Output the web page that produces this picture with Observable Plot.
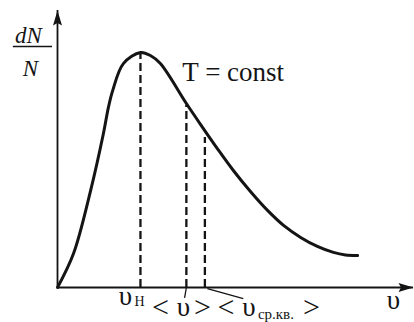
<!DOCTYPE html>
<html>
<head>
<meta charset="utf-8">
<script src="https://cdn.jsdelivr.net/npm/d3@7"></script>
<script src="https://cdn.jsdelivr.net/npm/@observablehq/plot@0.6"></script>
<style>
  html, body { margin: 0; padding: 0; background: #fff; }
</style>
</head>
<body>
<div id="chart"></div>
<script>
// Maxwell speed distribution at constant temperature (schematic)
const speed = [0, 0.45, 0.93, 1.29, 1.43, 1.55, 1.85, 2.33, 2.61, 2.89, 3.62, 4.02, 4.49, 4.94, 5.42, 5.90, 6.35, 6.83, 7.30, 7.75, 8.09, 8.43];
const share = [0, 1.47, 4.20, 6.67, 7.80, 8.53, 9.70, 10.18, 10.05, 9.70, 7.97, 7.06, 6.02, 5.07, 4.16, 3.34, 2.69, 2.17, 1.78, 1.52, 1.41, 1.39];

// most probable, mean and root-mean-square speeds
const markerSpeeds = [2.33, 3.62, 4.14];
const markerHeights = [10.18, 7.90, 6.50];

const tempNote = "T = const";
const yLabelTop = "dN";
const yLabelBottom = "N";
const xLabel = "υ";

const curve = speed.map((v, i) => ({v, f: share[i]}));
const markers = markerSpeeds.map((v, i) => ({v, f: markerHeights[i]}));
const [vProb, vMean, vRms] = markerSpeeds;

const ink = "#141414";
const serif = '"Liberation Serif", "DejaVu Serif", serif';

// filled arrowhead pointing up, tip at the origin
const arrowHead = {
  draw(ctx) {
    ctx.moveTo(0, 0);
    ctx.lineTo(4.5, 15);
    ctx.lineTo(0, 12.5);
    ctx.lineTo(-4.5, 15);
    ctx.closePath();
  }
};

const sym = (text, x, y, dx, dy, size, anchor = "middle", style = "normal") =>
  Plot.text([text], {x, y, dx, dy, text: d => d, fontSize: size, textAnchor: anchor,
    lineAnchor: "bottom", fill: ink, fontStyle: style, fontFamily: serif});

const chart = Plot.plot({
  width: 414,
  height: 322,
  marginLeft: 57,
  marginRight: 1,
  marginTop: 10,
  marginBottom: 35,
  x: {domain: [0, 10], axis: null},
  y: {domain: [0, 12], axis: null},
  style: {background: "#fff", overflow: "visible"},
  marks: [
    // axes with arrowheads
    Plot.ruleX([0], {stroke: ink, strokeWidth: 1.8}),
    Plot.ruleY([0], {stroke: ink, strokeWidth: 1.8}),
    Plot.dot([0], {x: 0, y: 12, symbol: arrowHead, fill: ink, stroke: "none"}),
    Plot.dot([0], {x: 10, y: 0, symbol: arrowHead, rotate: 90, fill: ink, stroke: "none"}),

    // characteristic speeds
    Plot.ruleX(markers, {x: "v", y1: 0, y2: "f", stroke: ink, strokeWidth: 2.3, strokeDasharray: "8,4"}),
    Plot.link([{x1: vMean, x2: vMean - 0.05, y1: 0, y2: -0.45},
               {x1: vRms + 0.07, x2: 5.22, y1: -0.05, y2: -0.48}],
      {x1: "x1", y1: "y1", x2: "x2", y2: "y2", stroke: ink, strokeWidth: 1.3}),

    // distribution curve
    Plot.line(curve, {x: "v", y: "f", curve: "catmull-rom", stroke: ink, strokeWidth: 3}),

    // labels
    sym(tempNote, vMean, 0, -4, -207, 27, "start"),
    sym(yLabelTop, 0, 12, -29, 32, 23, "middle", "italic"),
    sym(yLabelBottom, 0, 12, -27, 65, 23, "middle", "italic"),
    Plot.ruleY([0], {y: 10.44, x1: -1.24, x2: -0.14, stroke: ink, strokeWidth: 1.5}),
    sym(xLabel, 10, 0, -20, 21, 27),

    sym("υ", vProb, 0, -15, 17, 27),
    sym("Н", vProb, 0, -6, 18, 14, "start"),
    sym("<", vMean, 0, -26, 29, 30),
    sym("υ", vMean, 0, -3, 28, 27),
    sym(">", vMean, 0, 16, 29, 30),
    sym("<", vRms, 0, 21, 29, 30),
    sym("υ", vRms, 0, 44, 28, 27),
    sym("ср.кв.", vRms, 0, 53, 31, 15, "start"),
    sym(">", vRms, 0, 98, 29, 30, "start")
  ]
});

document.getElementById("chart").append(chart);
</script>
</body>
</html>
